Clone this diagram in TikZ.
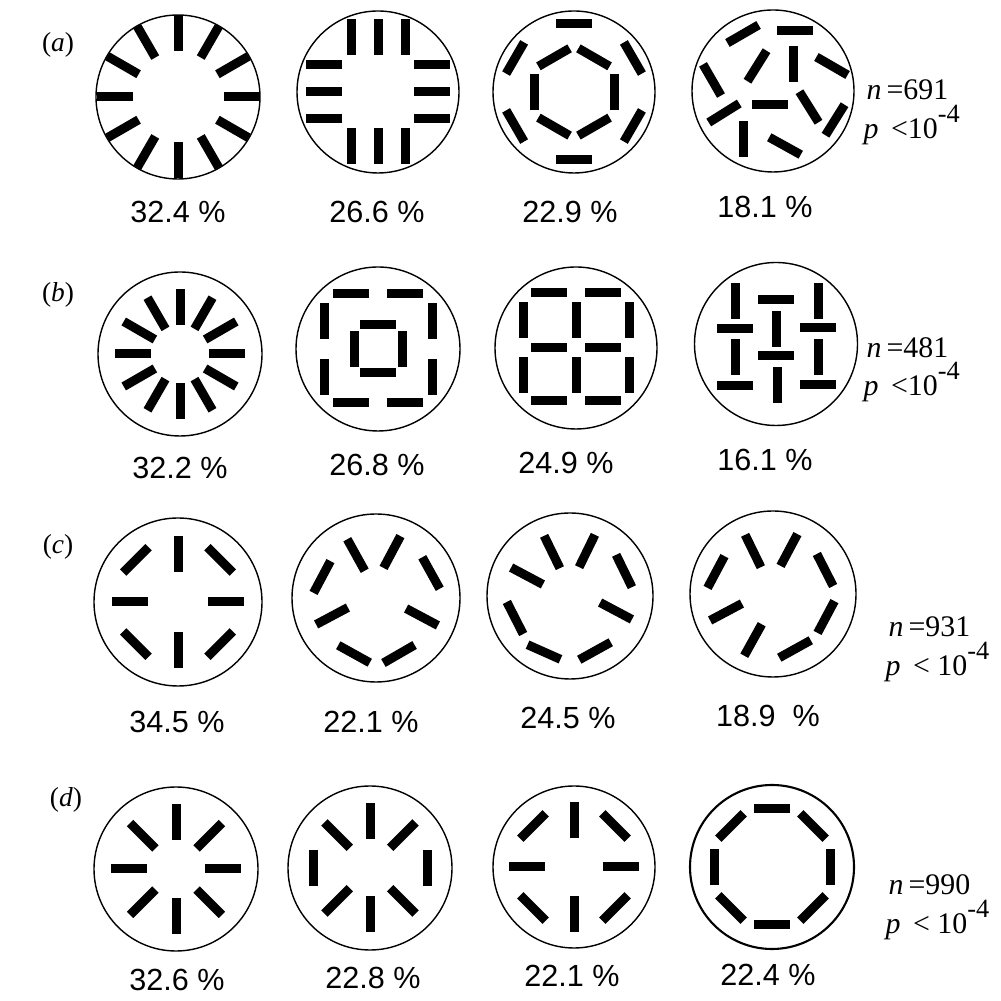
\documentclass[tikz,border=0pt]{standalone}
\usepackage{fontspec}
\setmainfont{Liberation Serif}
\newfontfamily\pctfont{Liberation Sans}
\usetikzlibrary{positioning}

% one black bar, 36 x 9 px, centred on the origin
\tikzset{seg/.pic={\fill (-18,-4.5) rectangle (18,4.5);}}
\newcommand{\tenpow}{10\raisebox{1.15ex}{\fontsize{7.5}{8}\selectfont -4}}

\begin{document}
\begin{tikzpicture}[x=0.1mm,y=0.1mm,
  ring/.style={line width=0.4pt},
  pct/.style={font=\pctfont\fontsize{8.7}{10}\selectfont, inner sep=0pt},
  stat/.style={font=\fontsize{8.5}{9}\selectfont, inner sep=0pt, anchor=west},
  tag/.style={font=\fontsize{7.8}{9}\selectfont, inner sep=0pt}]
\useasboundingbox (0,0) rectangle (1001,1001);

% row (a)
\node[tag] (ta) at (58,956) {(\textit{a})};
\begin{scope}[shift={(178,904)}]
\draw[ring] (0,0) circle (82);
\foreach \a in {0,30,...,330} \pic[rotate=\a] at (\a:63.5) {seg};
\end{scope}
\begin{scope}[shift={(378,909)}]
\draw[ring] (0,0) circle (81);
\foreach \u in {-27,0,27} {
    \pic[rotate=90] at (\u,54.5) {seg};
    \pic[rotate=90] at (\u,-54.5) {seg};
    \pic at (54,\u) {seg};
    \pic at (-54,\u) {seg};
}
\end{scope}
\begin{scope}[shift={(574,909)}]
\draw[ring] (0,0) circle (81);
\foreach \a in {30,90,...,330} \pic[rotate=\a+90] at (\a:68) {seg};
\foreach \a in {0,60,...,300} \pic[rotate=\a+90] at (\a:40) {seg};
\end{scope}
\begin{scope}[shift={(773,910)}]
\draw[ring] (0,0) circle (81);
\foreach \x/\y/\t in {-30/57/30, 22/60/0, -16/25/58, 20/27/90, 59/25/-30, -61/11/-60,
    -3/-14/0, 36/-16/-58, -49/-22/32, 62/-29/58, -30/-48/90, 12/-55/-29}
    \pic[rotate=\t] at (\x,\y) {seg};
\end{scope}
\foreach \x/\y/\lab/\c in {178/789/32.4/1, 377/789/26.6/2, 570/789/22.9/3, 765/794/18.1/4}
    \node[pct] (pa\c) at (\x,\y) {\lab\ \%};
\node[stat] (na) at (866,911) {\textit{n}\,=691};
\node[stat] (sa) at (863,876) {\textit{p}\ \,<\tenpow};

% row (b)
\node[tag] (tb) at (58,706) {(\textit{b})};
\begin{scope}[shift={(180,647)}]
\draw[ring] (0,0) circle (82);
\foreach \a in {0,30,...,330} \pic[rotate=\a] at (\a:47) {seg};
\end{scope}
\begin{scope}[shift={(378,652)}]
\draw[ring] (0,0) circle (82);
\foreach \x/\y/\t in {-27/55/0, 27/55/0, -27/-54/0, 27/-54/0, -54/28/90, -54/-28/90,
    54/28/90, 54/-28/90, 0/24/0, 0/-24/0, -24/0/90, 24/0/90}
    \pic[rotate=\t] at (\x,\y) {seg};
\end{scope}
\begin{scope}[shift={(576,653)}]
\draw[ring] (0,0) circle (81);
\foreach \y in {55,0,-53} {
    \pic at (-27,\y) {seg};
    \pic at (27,\y) {seg};
}
\foreach \x in {-53,0,53} {
    \pic[rotate=90] at (\x,28) {seg};
    \pic[rotate=90] at (\x,-27) {seg};
}
\end{scope}
\begin{scope}[shift={(776,657)}]
\draw[ring] (0,0) circle (81.5);
\foreach \x/\y/\t in {-41/43/90, -41/15/0, -41/-13/90, -41/-42/0, 0/44/0, 0/15/90,
    0/-12/0, 1/-41/90, 42/43/90, 42/16/0, 42/-13/90, 42/-41/0}
    \pic[rotate=\t] at (\x,\y) {seg};
\end{scope}
\foreach \x/\y/\lab/\c in {180/533/32.2/1, 377/536/26.8/2, 566/538/24.9/3, 765/541/16.1/4}
    \node[pct] (pb\c) at (\x,\y) {\lab\ \%};
\node[stat] (nb) at (866,653) {\textit{n}\,=481};
\node[stat] (sb) at (863,619) {\textit{p}\ \,<\tenpow};

% row (c)
\node[tag] (tc) at (58,454) {(\textit{c})};
\begin{scope}[shift={(178,399)}]
\draw[ring] (0,0) circle (84);
\foreach \a in {0,90,180,270} \pic[rotate=\a] at (\a:48) {seg};
\foreach \a in {45,135,225,315} \pic[rotate=\a+90] at (\a:59.5) {seg};
\end{scope}
\begin{scope}[shift={(376,403)}]
\draw[ring] (0,0) circle (84);
\foreach \x/\y/\t in {-54/21/62, -20/43/-61, 16/46/62, 55/25/-61, -44/-18/28,
    46/-19/-28, -22/-56/-29, 23/-56/30}
    \pic[rotate=\t] at (\x,\y) {seg};
\end{scope}
\begin{scope}[shift={(570,405)}]
\draw[ring] (0,0) circle (83);
\foreach \x/\y/\t in {-43/20/-28, -18/44/-64, 17/45/64, 54/25/-64, -55/-22/-63,
    46/-15/-28, -26/-56/-24, 25/-55/29}
    \pic[rotate=\t] at (\x,\y) {seg};
\end{scope}
\begin{scope}[shift={(773,407)}]
\draw[ring] (0,0) circle (83);
\foreach \x/\y/\t in {-57/22/62, -20/43/-64, 16/44/62, 52/24/-63, -47/-18/28,
    53/-23/62, -20/-46/61, 22/-55/29}
    \pic[rotate=\t] at (\x,\y) {seg};
\end{scope}
\foreach \x/\y/\lab/\c in {177/279/34.5\ /1, 371/279/22.1\ /2, 568/283/24.5\ /3, 768/285/18.9\ \ /4}
    \node[pct] (pc\c) at (\x,\y) {\lab\%};
\node[stat] (nc) at (888,374) {\textit{n}\,=931};
\node[stat] (sc) at (885,339) {\textit{p}\ \,< \tenpow};

% row (d)
\node[tag] (td) at (66,201) {(\textit{d})};
\begin{scope}[shift={(176,132)}]
\draw[ring] (0,0) circle (82);
\foreach \a in {0,45,...,315} \pic[rotate=\a] at (\a:47) {seg};
\end{scope}
\begin{scope}[shift={(370,133)}]
\draw[ring] (0,0) circle (82);
\foreach \a in {45,90,135,225,270,315} \pic[rotate=\a] at (\a:46.5) {seg};
\foreach \a in {0,180} \pic[rotate=90] at (\a:57) {seg};
\end{scope}
\begin{scope}[shift={(574,134)}]
\draw[ring] (0,0) circle (81);
\foreach \a in {0,90,180,270} \pic[rotate=\a] at (\a:47) {seg};
\foreach \a in {45,135,225,315} \pic[rotate=\a+90] at (\a:58) {seg};
\end{scope}
\begin{scope}[shift={(772,134)}]
\draw[line width=0.6pt] (0,0) circle (82);
\foreach \a in {0,45,...,315} \pic[rotate=\a+90] at (\a:58) {seg};
\end{scope}
\foreach \x/\y/\lab/\c in {177/21/32.6/1, 373/23/22.8/2, 572/25/22.1/3, 768/26/22.4/4}
    \node[pct] (pd\c) at (\x,\y) {\lab\ \%};
\node[stat] (nd) at (888,116) {\textit{n}\,=990};
\node[stat] (sd) at (885,81) {\textit{p}\ \,< \tenpow};
\end{tikzpicture}
\end{document}
